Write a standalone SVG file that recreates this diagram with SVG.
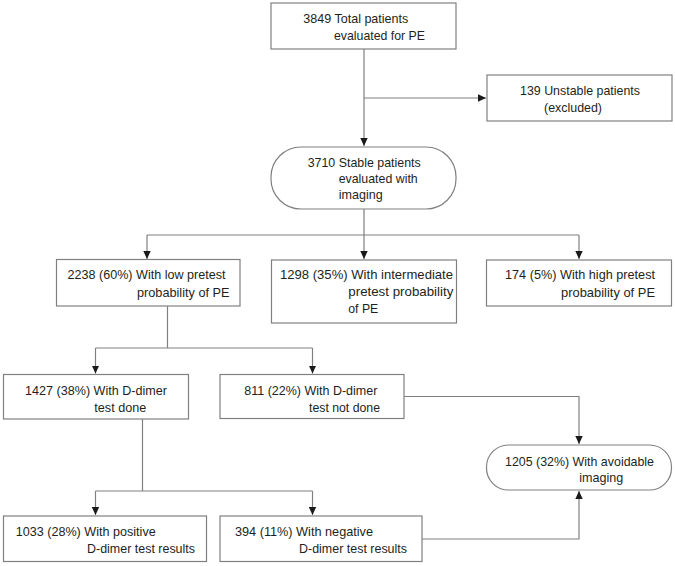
<svg xmlns="http://www.w3.org/2000/svg" width="675" height="566" viewBox="0 0 675 566">
<style>
.box{fill:#fff;stroke:#808080;stroke-width:1.2}
.ln{fill:none;stroke:#808080;stroke-width:1.2}
text{font-family:"Liberation Sans",Arial,sans-serif;font-size:13.6px;fill:#231f20}
</style>
<defs>
<marker id="ah" markerUnits="userSpaceOnUse" markerWidth="9" markerHeight="8" refX="8" refY="4" orient="auto">
<path d="M0,0.3 L8,4 L0,7.7 Z" fill="#1a1a1a"/>
</marker>
</defs>
<rect width="675" height="566" fill="#fff"/>
<g id="connectors">
<path class="ln" d="M364,49 V146" marker-end="url(#ah)"/>
<path class="ln" d="M364,98 H486" marker-end="url(#ah)"/>
<path class="ln" d="M364,209 V235 M147,235 H579"/>
<path class="ln" d="M147,235 V259" marker-end="url(#ah)"/>
<path class="ln" d="M364,235 V259" marker-end="url(#ah)"/>
<path class="ln" d="M579,235 V259" marker-end="url(#ah)"/>
<path class="ln" d="M167.5,306 V348 M95.5,348 H312.5"/>
<path class="ln" d="M95.5,348 V373.5" marker-end="url(#ah)"/>
<path class="ln" d="M312.5,348 V373.5" marker-end="url(#ah)"/>
<path class="ln" d="M142.5,419 V491 M95.5,491 H312.5"/>
<path class="ln" d="M95.5,491 V515" marker-end="url(#ah)"/>
<path class="ln" d="M312.5,491 V515" marker-end="url(#ah)"/>
<path class="ln" d="M404,396.5 H579 V444" marker-end="url(#ah)"/>
<path class="ln" d="M422,539 H579 V491" marker-end="url(#ah)"/>
</g>
<g id="n3849">
<rect class="box" x="271" y="3" width="185" height="46"/>
<text x="303.3" y="22.5" textLength="105" lengthAdjust="spacingAndGlyphs">3849 Total patients</text>
<text x="334" y="39.5" textLength="91" lengthAdjust="spacingAndGlyphs">evaluated for PE</text>
</g>
<g id="n139">
<rect class="box" x="487" y="75" width="185" height="46"/>
<text x="520" y="94.5" textLength="120" lengthAdjust="spacingAndGlyphs">139 Unstable patients</text>
<text x="544" y="111.5" textLength="58" lengthAdjust="spacingAndGlyphs">(excluded)</text>
</g>
<g id="n3710">
<rect class="box" x="271" y="147" width="185" height="62" rx="30" ry="30"/>
<text x="307.7" y="166.7" textLength="113" lengthAdjust="spacingAndGlyphs">3710 Stable patients</text>
<text x="338.7" y="182.8" textLength="79" lengthAdjust="spacingAndGlyphs">evaluated with</text>
<text x="338.7" y="199" textLength="44" lengthAdjust="spacingAndGlyphs">imaging</text>
</g>
<g id="n2238">
<rect class="box" x="56.5" y="259.5" width="183.5" height="46.5"/>
<text x="67.5" y="278.7" textLength="158" lengthAdjust="spacingAndGlyphs">2238 (60%) With low pretest</text>
<text x="137" y="296.7" textLength="92.5" lengthAdjust="spacingAndGlyphs">probability of PE</text>
</g>
<g id="n1298">
<rect class="box" x="271.5" y="260" width="185" height="63"/>
<text x="280" y="278.7" textLength="173" lengthAdjust="spacingAndGlyphs">1298 (35%) With intermediate</text>
<text x="348.3" y="296.2" textLength="105" lengthAdjust="spacingAndGlyphs">pretest probability</text>
<text x="348.3" y="313" textLength="30" lengthAdjust="spacingAndGlyphs">of PE</text>
</g>
<g id="n174">
<rect class="box" x="486.5" y="260" width="185" height="46"/>
<text x="505" y="278.7" textLength="150" lengthAdjust="spacingAndGlyphs">174 (5%) With high pretest</text>
<text x="561" y="296.7" textLength="94" lengthAdjust="spacingAndGlyphs">probability of PE</text>
</g>
<g id="n1427">
<rect class="box" x="3.5" y="374.5" width="185" height="44.5"/>
<text x="25" y="395" textLength="142" lengthAdjust="spacingAndGlyphs">1427 (38%) With D-dimer</text>
<text x="94.3" y="412.3" textLength="52" lengthAdjust="spacingAndGlyphs">test done</text>
</g>
<g id="n811">
<rect class="box" x="220" y="374.5" width="184" height="44"/>
<text x="244.3" y="395" textLength="133" lengthAdjust="spacingAndGlyphs">811 (22%) With D-dimer</text>
<text x="309" y="412.3" textLength="71" lengthAdjust="spacingAndGlyphs">test not done</text>
</g>
<g id="n1205">
<rect class="box" x="486.5" y="445" width="185" height="45" rx="22" ry="22"/>
<text x="505" y="465.5" textLength="149" lengthAdjust="spacingAndGlyphs">1205 (32%) With avoidable</text>
<text x="579.3" y="481.5" textLength="44" lengthAdjust="spacingAndGlyphs">imaging</text>
</g>
<g id="n1033">
<rect class="box" x="3.5" y="516" width="203" height="45.5"/>
<text x="15.7" y="535.5" textLength="140" lengthAdjust="spacingAndGlyphs">1033 (28%) With positive</text>
<text x="87" y="552.7" textLength="108" lengthAdjust="spacingAndGlyphs">D-dimer test results</text>
</g>
<g id="n394">
<rect class="box" x="220" y="516" width="202" height="45.5"/>
<text x="235" y="535.5" textLength="138" lengthAdjust="spacingAndGlyphs">394 (11%) With negative</text>
<text x="299" y="552.7" textLength="108" lengthAdjust="spacingAndGlyphs">D-dimer test results</text>
</g>
</svg>
